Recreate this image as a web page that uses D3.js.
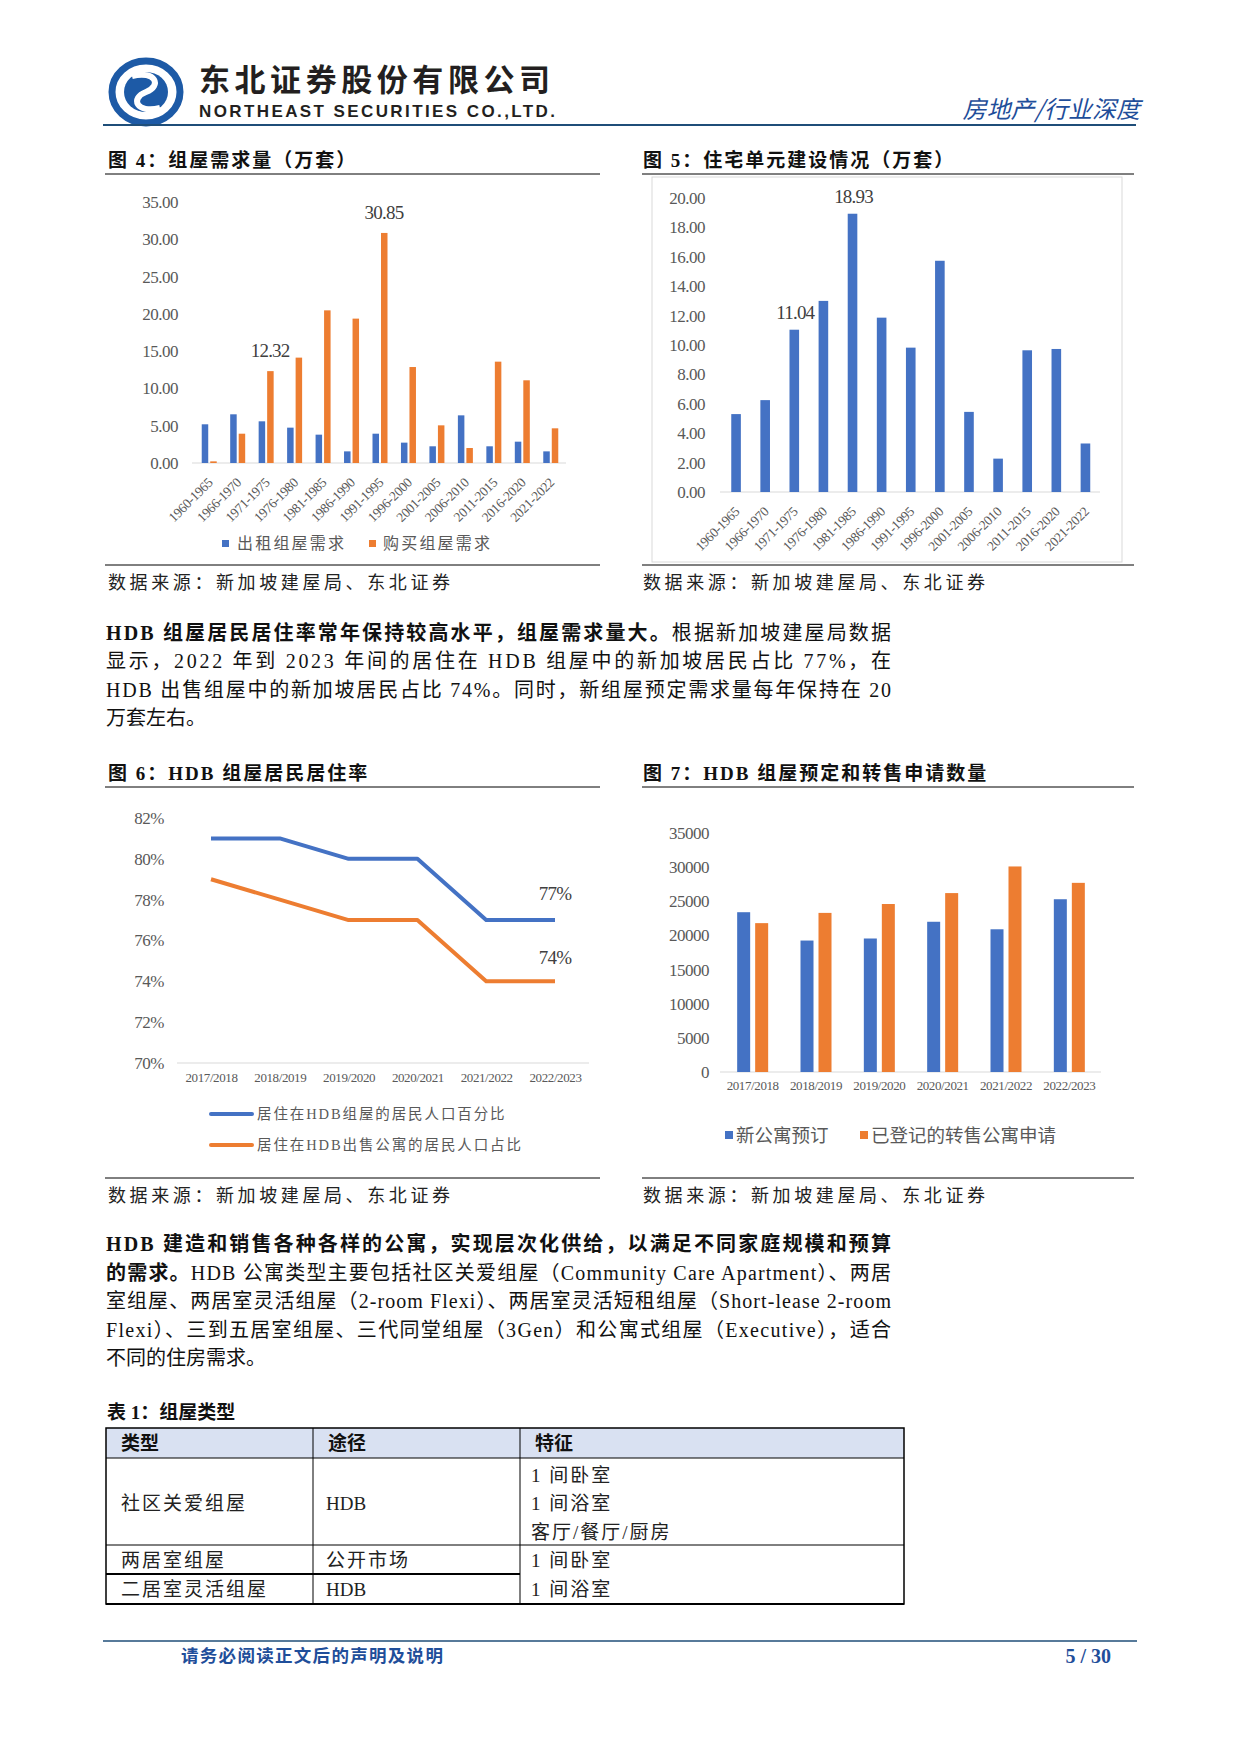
<!DOCTYPE html>
<html>
<head>
<meta charset="utf-8">
<title>组屋需求</title>
<script src="https://d3js.org/d3.v7.min.js"></script>
<style>
body { margin: 0; background: #fff; }
svg text { font-family: "Liberation Serif", "Noto Sans CJK SC", serif; }
.cjk { font-family: "Noto Sans CJK SC", sans-serif !important; }
.lat { font-family: "Liberation Sans", sans-serif !important; }
.tick text { fill: #595959; }
</style>
</head>
<body>
<script>
// fig 4 / fig 5 categories
const periods = ['1960-1965','1966-1970','1971-1975','1976-1980','1981-1985','1986-1990','1991-1995',
  '1996-2000','2001-2005','2006-2010','2011-2015','2016-2020','2021-2022']
const rentDemand = [5.19, 6.53, 5.59, 4.74, 3.80, 1.56, 3.93, 2.73, 2.24, 6.39, 2.24, 2.86, 1.56]
const buyDemand = [0.22, 3.93, 12.32, 14.13, 20.47, 19.36, 30.85, 12.87, 5.05, 2.01, 13.59, 11.09, 4.65]
const unitsBuilt = [5.30, 6.25, 11.04, 13.00, 18.93, 11.86, 9.82, 15.73, 5.45, 2.27, 9.64, 9.73, 3.30]
const fig4Ticks = [0, 5, 10, 15, 20, 25, 30, 35]
const fig5Ticks = [0, 2, 4, 6, 8, 10, 12, 14, 16, 18, 20]
const fig4Labels = [{i: 2, v: 12.32}, {i: 6, v: 30.85}]
const fig5Labels = [{i: 2, v: 11.04}, {i: 4, v: 18.93}]

// fig 6 / fig 7 categories
const years = ['2017/2018','2018/2019','2019/2020','2020/2021','2021/2022','2022/2023']
const hdbFlatPct = [81, 81, 80, 80, 77, 77]
const soldFlatPct = [79, 78, 77, 77, 74, 74]
const fig6Ticks = [70, 72, 74, 76, 78, 80, 82]
const newBookings = [23400, 19250, 19550, 22000, 20900, 25300]
const resaleApps = [21800, 23300, 24600, 26200, 30100, 27700]
const fig7Ticks = [0, 5000, 10000, 15000, 20000, 25000, 30000, 35000]

const BLUE = '#4472c4', ORANGE = '#ed7d31', NAVY = '#1f4e79'

var svg = d3.select('body').append('svg')
    .attr('width', 1241).attr('height', 1754)

function txt(x, y, s, o) {
  o = o || {}
  var t = svg.append('text').attr('x', x).attr('y', y)
    .attr('font-size', o.size || 20)
    .attr('fill', o.fill || '#222')
    .attr('text-anchor', o.anchor || 'start')
    .text(s)
  if (o.weight) t.attr('font-weight', o.weight)
  if (o.ls) t.attr('letter-spacing', o.ls)
  if (o.cls) t.attr('class', o.cls)
  if (o.style) t.attr('font-style', o.style)
  if (o.len) t.attr('textLength', o.len).attr('lengthAdjust', 'spacing')
  return t
}
function hline(x1, x2, y, c, w) {
  svg.append('line').attr('x1', x1).attr('x2', x2).attr('y1', y).attr('y2', y)
    .attr('stroke', c || '#000').attr('stroke-width', w || 1)
}
// mixed bold / normal line
function richLine(x, y, parts, len) {
  var t = svg.append('text').attr('x', x).attr('y', y).attr('font-size', 20).attr('fill', '#111')
  parts.forEach(function(p) {
    t.append('tspan').attr('font-weight', p[1] ? 'bold' : 'normal').text(p[0])
  })
  if (len) t.attr('textLength', len).attr('lengthAdjust', 'spacing')
}

// ---------- header ----------
var logo = svg.append('g').attr('transform', 'translate(146,92)')
logo.append('ellipse').attr('rx', 34).attr('ry', 31).attr('fill', 'none')
  .attr('stroke', '#1d5aa6').attr('stroke-width', 7)
logo.append('ellipse').attr('rx', 22).attr('ry', 20).attr('fill', '#1d5aa6')
logo.append('path').attr('d', 'M-14,-16 C10,-22 16,-6 0,0 C-16,6 -10,22 14,16')
  .attr('fill', 'none').attr('stroke', '#fff').attr('stroke-width', 6)
txt(199, 91, '东北证券股份有限公司', {size: 31, weight: 'bold', cls: 'cjk', fill: '#231f20', len: 351})
txt(199, 117, 'NORTHEAST SECURITIES CO.,LTD.', {size: 17, weight: 'bold', cls: 'lat', fill: '#231f20', len: 356})
txt(1140, 118, '房地产/行业深度', {size: 24, anchor: 'end', cls: 'cjk', fill: '#1f4e9a', style: 'italic'})
hline(103, 1136, 125, NAVY, 2)

// ---------- figure titles / sources ----------
function figTitle(x, y, s) {
  txt(x, y, s, {size: 19, weight: 'bold', ls: 2, fill: '#111'})
}
figTitle(108, 167, '图 4：组屋需求量（万套）')
figTitle(643, 167, '图 5：住宅单元建设情况（万套）')
figTitle(108, 780, '图 6：HDB 组屋居民居住率')
figTitle(643, 780, '图 7：HDB 组屋预定和转售申请数量')
hline(105, 600, 174); hline(642, 1134, 174)
hline(105, 600, 787); hline(642, 1134, 787)
hline(105, 600, 565); hline(642, 1134, 565)
hline(105, 600, 1178); hline(642, 1134, 1178)
txt(108, 589, '数据来源：新加坡建屋局、东北证券', {size: 18, ls: 3.6, fill: '#222'})
txt(643, 589, '数据来源：新加坡建屋局、东北证券', {size: 18, ls: 3.6, fill: '#222'})
txt(108, 1202, '数据来源：新加坡建屋局、东北证券', {size: 18, ls: 3.6, fill: '#222'})
txt(643, 1202, '数据来源：新加坡建屋局、东北证券', {size: 18, ls: 3.6, fill: '#222'})

function yAxis(scale, x, ticks, fmt) {
  svg.append('g').attr('transform', 'translate(' + x + ',0)')
    .call(d3.axisLeft(scale).tickValues(ticks).tickFormat(fmt).tickSize(0).tickPadding(0))
    .call(function(g) { g.select('.domain').remove() })
    .selectAll('text').attr('font-size', 17).attr('letter-spacing', -0.5)
}
function rotatedX(scale, y, offset) {
  svg.append('g').attr('transform', 'translate(' + offset + ',' + y + ')')
    .call(d3.axisBottom(scale).tickSize(0))
    .call(function(g) { g.select('.domain').remove() })
    .selectAll('text').attr('font-size', 13.5).attr('letter-spacing', -0.3)
    .attr('text-anchor', 'end').attr('x', 0).attr('y', 0).attr('dy', '0.35em')
    .attr('transform', 'translate(1,17) rotate(-45)')
}

// ---------- fig 4 ----------
var x4 = d3.scaleBand().domain(periods).range([195, 565])
var y4 = d3.scaleLinear().domain([0, 35]).range([463, 202])
yAxis(y4, 178, fig4Ticks, d3.format('.2f'))
hline(192, 566, 463, '#d9d9d9', 1)
svg.append('g').selectAll('rect').data(periods).join('rect')
  .attr('x', function(d) { return x4(d) + x4.bandwidth() / 2 - 7.5 })
  .attr('y', function(d, i) { return y4(rentDemand[i]) })
  .attr('width', 6.5)
  .attr('height', function(d, i) { return y4(0) - y4(rentDemand[i]) })
  .attr('fill', BLUE)
svg.append('g').selectAll('rect').data(periods).join('rect')
  .attr('x', function(d) { return x4(d) + x4.bandwidth() / 2 + 1 })
  .attr('y', function(d, i) { return y4(buyDemand[i]) })
  .attr('width', 6.5)
  .attr('height', function(d, i) { return y4(0) - y4(buyDemand[i]) })
  .attr('fill', ORANGE)
rotatedX(x4, 463, 0)
fig4Labels.forEach(function(l) {
  txt(x4(periods[l.i]) + x4.bandwidth() / 2 + 4, y4(l.v) - 14, l.v.toFixed(2),
    {size: 19, anchor: 'middle', fill: '#404040', ls: -0.8})
})
svg.append('rect').attr('x', 222).attr('y', 540).attr('width', 7).attr('height', 7).attr('fill', BLUE)
txt(237, 549, '出租组屋需求', {size: 16, ls: 2.2, fill: '#595959'})
svg.append('rect').attr('x', 369).attr('y', 540).attr('width', 7).attr('height', 7).attr('fill', ORANGE)
txt(383, 549, '购买组屋需求', {size: 16, ls: 2.2, fill: '#595959'})

// ---------- fig 5 ----------
svg.append('rect').attr('x', 652).attr('y', 177).attr('width', 470).attr('height', 385)
  .attr('fill', 'none').attr('stroke', '#d9d9d9')
var x5 = d3.scaleBand().domain(periods).range([721.5, 1100]).paddingInner(0.67).paddingOuter(0.335)
var y5 = d3.scaleLinear().domain([0, 20]).range([492, 198])
yAxis(y5, 705, fig5Ticks, d3.format('.2f'))
hline(720, 1100, 492, '#d9d9d9', 1)
svg.append('g').selectAll('rect').data(periods).join('rect')
  .attr('x', function(d) { return x5(d) })
  .attr('y', function(d, i) { return y5(unitsBuilt[i]) })
  .attr('width', x5.bandwidth())
  .attr('height', function(d, i) { return y5(0) - y5(unitsBuilt[i]) })
  .attr('fill', BLUE)
rotatedX(x5, 492, 0)
fig5Labels.forEach(function(l) {
  txt(x5(periods[l.i]) + x5.bandwidth() / 2 + 1, y5(l.v) - 11, l.v.toFixed(2),
    {size: 19, anchor: 'middle', fill: '#404040', ls: -0.8})
})

// ---------- fig 6 ----------
var x6 = d3.scalePoint().domain(years).range([211, 555])
var y6 = d3.scaleLinear().domain([70, 82]).range([1063, 818])
yAxis(y6, 164, fig6Ticks, function(d) { return d + '%' })
hline(177, 589, 1063, '#d9d9d9', 1)
svg.append('g').attr('transform', 'translate(0,1063)')
  .call(d3.axisBottom(x6).tickSize(0).tickPadding(10))
  .call(function(g) { g.select('.domain').remove() })
  .selectAll('text').attr('font-size', 13).attr('letter-spacing', -0.4)
var line6 = d3.line().x(function(d) { return x6(d.x) }).y(function(d) { return y6(d.y) })
svg.append('path').attr('d', line6(years.map(function(y, i) { return {x: y, y: hdbFlatPct[i]} })))
  .attr('fill', 'none').attr('stroke', BLUE).attr('stroke-width', 4).attr('stroke-linejoin', 'round')
svg.append('path').attr('d', line6(years.map(function(y, i) { return {x: y, y: soldFlatPct[i]} })))
  .attr('fill', 'none').attr('stroke', ORANGE).attr('stroke-width', 4).attr('stroke-linejoin', 'round')
txt(x6(years[5]), y6(hdbFlatPct[5]) - 20, hdbFlatPct[5] + '%', {size: 19, anchor: 'middle', fill: '#404040', ls: -0.8})
txt(x6(years[5]), y6(soldFlatPct[5]) - 17, soldFlatPct[5] + '%', {size: 19, anchor: 'middle', fill: '#404040', ls: -0.8})
svg.append('line').attr('x1', 211).attr('x2', 252).attr('y1', 1114).attr('y2', 1114)
  .attr('stroke', BLUE).attr('stroke-width', 4).attr('stroke-linecap', 'round')
txt(257, 1119, '居住在HDB组屋的居民人口百分比', {size: 14.5, ls: 1.9, fill: '#595959'})
svg.append('line').attr('x1', 211).attr('x2', 252).attr('y1', 1145).attr('y2', 1145)
  .attr('stroke', ORANGE).attr('stroke-width', 4).attr('stroke-linecap', 'round')
txt(257, 1150, '居住在HDB出售公寓的居民人口占比', {size: 14.5, ls: 1.9, fill: '#595959'})

// ---------- fig 7 ----------
var x7 = d3.scaleBand().domain(years).range([721, 1101])
var y7 = d3.scaleLinear().domain([0, 35000]).range([1072, 833])
yAxis(y7, 709, fig7Ticks, d3.format('d'))
hline(720, 1101, 1072, '#d9d9d9', 1)
svg.append('g').selectAll('rect').data(years).join('rect')
  .attr('x', function(d) { return x7(d) + x7.bandwidth() / 2 - 15.5 })
  .attr('y', function(d, i) { return y7(newBookings[i]) })
  .attr('width', 13)
  .attr('height', function(d, i) { return y7(0) - y7(newBookings[i]) })
  .attr('fill', BLUE)
svg.append('g').selectAll('rect').data(years).join('rect')
  .attr('x', function(d) { return x7(d) + x7.bandwidth() / 2 + 2.5 })
  .attr('y', function(d, i) { return y7(resaleApps[i]) })
  .attr('width', 13)
  .attr('height', function(d, i) { return y7(0) - y7(resaleApps[i]) })
  .attr('fill', ORANGE)
svg.append('g').attr('transform', 'translate(0,1072)')
  .call(d3.axisBottom(x7).tickSize(0).tickPadding(9))
  .call(function(g) { g.select('.domain').remove() })
  .selectAll('text').attr('font-size', 13).attr('letter-spacing', -0.4)
svg.append('rect').attr('x', 725).attr('y', 1131).attr('width', 8).attr('height', 8).attr('fill', BLUE)
txt(736, 1142, '新公寓预订', {size: 18.5, cls: 'cjk', fill: '#595959'})
svg.append('rect').attr('x', 860).attr('y', 1131).attr('width', 8).attr('height', 8).attr('fill', ORANGE)
txt(871, 1142, '已登记的转售公寓申请', {size: 18.5, cls: 'cjk', fill: '#595959'})

// ---------- paragraphs ----------
var W = 785
richLine(106, 640, [['HDB 组屋居民居住率常年保持较高水平，组屋需求量大。', 1], ['根据新加坡建屋局数据', 0]], W)
richLine(106, 668, [['显示，2022 年到 2023 年间的居住在 HDB 组屋中的新加坡居民占比 77%，在', 0]], W)
richLine(106, 697, [['HDB 出售组屋中的新加坡居民占比 74%。同时，新组屋预定需求量每年保持在 20', 0]], W)
richLine(106, 725, [['万套左右。', 0]])

richLine(106, 1251, [['HDB 建造和销售各种各样的公寓，实现层次化供给，以满足不同家庭规模和预算', 1]], W)
richLine(106, 1280, [['的需求。', 1], ['HDB 公寓类型主要包括社区关爱组屋（Community Care Apartment）、两居', 0]], W)
richLine(106, 1308, [['室组屋、两居室灵活组屋（2-room Flexi）、两居室灵活短租组屋（Short-lease 2-room', 0]], W)
richLine(106, 1337, [['Flexi）、三到五居室组屋、三代同堂组屋（3Gen）和公寓式组屋（Executive），适合', 0]], W)
richLine(106, 1365, [['不同的住房需求。', 0]])

// ---------- table ----------
txt(107, 1419, '表 1：组屋类型', {size: 19, weight: 'bold', fill: '#111'})
var cols = [106, 313, 520, 904]
svg.append('rect').attr('x', 106).attr('y', 1428).attr('width', 798).attr('height', 30).attr('fill', '#d9e1f2')
svg.append('rect').attr('x', 106).attr('y', 1428).attr('width', 798).attr('height', 176)
  .attr('fill', 'none').attr('stroke', '#000').attr('stroke-width', 1.5)
hline(106, 904, 1458, '#000', 1)
hline(106, 904, 1545, '#000', 1)
hline(106, 520, 1574, '#000', 2)
hline(106, 904, 1604, '#000', 2)
;[313, 520].forEach(function(x) {
  svg.append('line').attr('x1', x).attr('x2', x).attr('y1', 1428).attr('y2', 1604)
    .attr('stroke', '#000').attr('stroke-width', 1)
})
var hdr = ['类型', '途径', '特征']
hdr.forEach(function(h, i) { txt(cols[i] + 15, 1450, h, {size: 19, weight: 'bold', fill: '#111'}) })
txt(121, 1510, '社区关爱组屋', {size: 19, ls: 2, fill: '#222'})
txt(326, 1510, 'HDB', {size: 19, fill: '#222'})
txt(531, 1482, '1 间卧室', {size: 19, ls: 2, fill: '#222'})
txt(531, 1510, '1 间浴室', {size: 19, ls: 2, fill: '#222'})
txt(531, 1539, '客厅/餐厅/厨房', {size: 19, ls: 2, fill: '#222'})
txt(121, 1567, '两居室组屋', {size: 19, ls: 2, fill: '#222'})
txt(326, 1567, '公开市场', {size: 19, ls: 2, fill: '#222'})
txt(121, 1596, '二居室灵活组屋', {size: 19, ls: 2, fill: '#222'})
txt(326, 1596, 'HDB', {size: 19, fill: '#222'})
txt(531, 1567, '1 间卧室', {size: 19, ls: 2, fill: '#222'})
txt(531, 1596, '1 间浴室', {size: 19, ls: 2, fill: '#222'})

// ---------- footer ----------
hline(103, 1137, 1641, NAVY, 1.5)
txt(181, 1662, '请务必阅读正文后的声明及说明', {size: 17.5, weight: 'bold', fill: '#1f4e9a', ls: 1.3})
txt(1111, 1663, '5 / 30', {size: 20, weight: 'bold', fill: '#1f4e9a', anchor: 'end'})
</script>
</body>
</html>
